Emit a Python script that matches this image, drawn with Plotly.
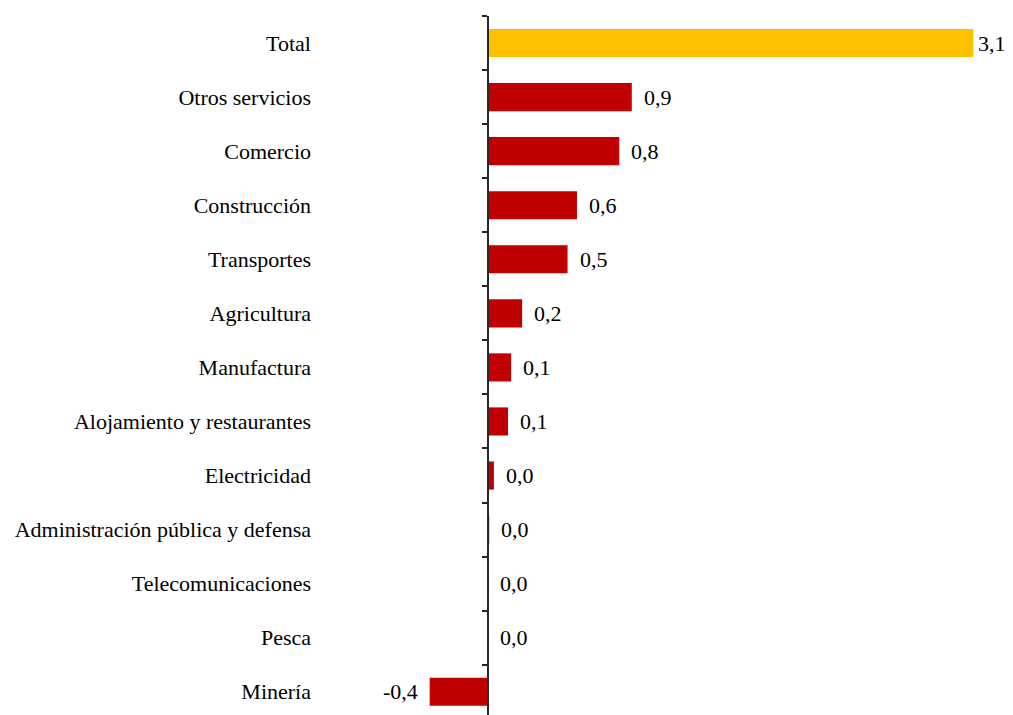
import plotly.graph_objects as go

categorias = ["Total", "Otros servicios", "Comercio", "Construcción", "Transportes",
              "Agricultura", "Manufactura", "Alojamiento y restaurantes", "Electricidad",
              "Administración pública y defensa", "Telecomunicaciones", "Pesca", "Minería"]
valores = [3.1, 0.92, 0.84, 0.57, 0.51, 0.22, 0.15, 0.13, 0.04, 0.01, 0.0, 0.002, -0.37]
colores = ["#FFC000"] + ["#C00000"] * 12

x_min, x_max = -1.07, 3.27
fuente = dict(family="Liberation Serif, Times New Roman, serif", size=22, color="black")

fig = go.Figure()
fig.add_trace(go.Bar(
    y=categorias, x=valores, orientation="h",
    marker=dict(color=colores, line=dict(width=0)),
    width=0.52, hoverinfo="skip"
))

# etiquetas de datos, fuera del extremo de la barra
for i, (c, v) in enumerate(zip(categorias, valores)):
    txt = f"{v:.1f}".replace(".", ",")
    if v < 0:
        fig.add_annotation(x=v, y=c, text=txt, showarrow=False, xanchor="right",
                           xshift=-10, font=fuente)
    else:
        # la del total va algo mas pegada para que no se corte en el borde
        fig.add_annotation(x=v, y=c, text=txt, showarrow=False, xanchor="left",
                           xshift=3 if i == 0 else 10, font=fuente)

# eje vertical en cero con marcas entre categorias
pos_cero = (0 - x_min) / (x_max - x_min)
fig.add_trace(go.Scatter(x=[None], y=[None], yaxis="y2", showlegend=False))

fig.update_layout(
    width=1005, height=707,
    margin=dict(l=312, r=13, t=8, b=0),
    plot_bgcolor="white", paper_bgcolor="white",
    showlegend=False, font=fuente, bargap=0.48,
    xaxis=dict(range=[x_min, x_max], visible=False),
    yaxis=dict(type="category", categoryorder="array", categoryarray=categorias,
               range=[12.43, -0.5], showline=False, ticks="", showgrid=False,
               ticklabelstandoff=8, tickfont=fuente),
    yaxis2=dict(overlaying="y", anchor="free", position=pos_cero, side="left",
                range=[12.43, -0.5], showgrid=False, zeroline=False,
                showline=True, linecolor="#262626", linewidth=2,
                ticks="outside", ticklen=5, tickwidth=2, tickcolor="#262626",
                tickvals=[i - 0.5 for i in range(len(categorias) + 1)],
                showticklabels=False),
)

fig.write_html("out.html")
